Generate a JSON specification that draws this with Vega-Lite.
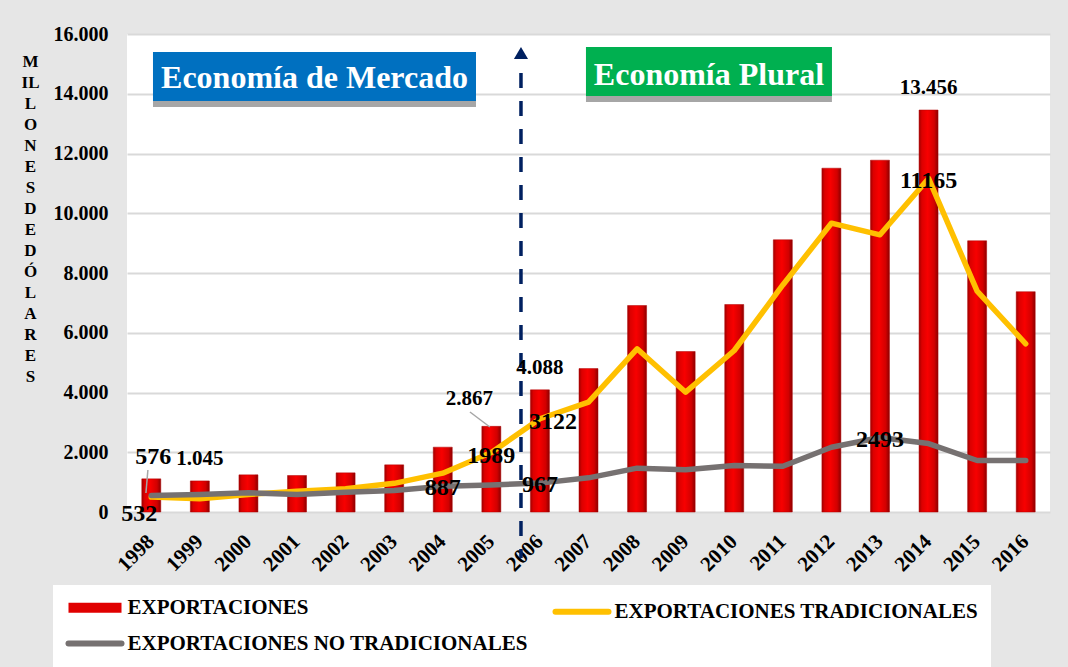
{
  "$schema": "https://vega.github.io/schema/vega-lite/v6.json",
  "width": 923,
  "height": 478,
  "autosize": "none",
  "padding": {"left": 127, "top": 34, "right": 18, "bottom": 155},
  "background": "#e6e6e6",
  "config": {"font": "Liberation Serif", "view": {"fill": "white", "stroke": null}},
  "data": {"values": [
    {"year": 1998, "total": 1110, "EXPORTACIONES TRADICIONALES": 500, "EXPORTACIONES NO TRADICIONALES": 555, "tLabel": "576", "nLabel": "532"},
    {"year": 1999, "total": 1040, "EXPORTACIONES TRADICIONALES": 441, "EXPORTACIONES NO TRADICIONALES": 586, "bLabel": "1.045"},
    {"year": 2000, "total": 1244, "EXPORTACIONES TRADICIONALES": 586, "EXPORTACIONES NO TRADICIONALES": 642},
    {"year": 2001, "total": 1222, "EXPORTACIONES TRADICIONALES": 697, "EXPORTACIONES NO TRADICIONALES": 586},
    {"year": 2002, "total": 1311, "EXPORTACIONES TRADICIONALES": 776, "EXPORTACIONES NO TRADICIONALES": 664},
    {"year": 2003, "total": 1579, "EXPORTACIONES TRADICIONALES": 960, "EXPORTACIONES NO TRADICIONALES": 720},
    {"year": 2004, "total": 2170, "EXPORTACIONES TRADICIONALES": 1300, "EXPORTACIONES NO TRADICIONALES": 860, "nLabel": "887"},
    {"year": 2005, "total": 2867, "EXPORTACIONES TRADICIONALES": 1989, "EXPORTACIONES NO TRADICIONALES": 905, "bLabel": "2.867", "tLabel": "1989"},
    {"year": 2006, "total": 4088, "EXPORTACIONES TRADICIONALES": 3122, "EXPORTACIONES NO TRADICIONALES": 967, "bLabel": "4.088", "tLabel": "3122", "nLabel": "967"},
    {"year": 2007, "total": 4800, "EXPORTACIONES TRADICIONALES": 3676, "EXPORTACIONES NO TRADICIONALES": 1144},
    {"year": 2008, "total": 6912, "EXPORTACIONES TRADICIONALES": 5462, "EXPORTACIONES NO TRADICIONALES": 1467},
    {"year": 2009, "total": 5372, "EXPORTACIONES TRADICIONALES": 4010, "EXPORTACIONES NO TRADICIONALES": 1412},
    {"year": 2010, "total": 6946, "EXPORTACIONES TRADICIONALES": 5406, "EXPORTACIONES NO TRADICIONALES": 1556},
    {"year": 2011, "total": 9112, "EXPORTACIONES TRADICIONALES": 7600, "EXPORTACIONES NO TRADICIONALES": 1533},
    {"year": 2012, "total": 11508, "EXPORTACIONES TRADICIONALES": 9667, "EXPORTACIONES NO TRADICIONALES": 2169},
    {"year": 2013, "total": 11776, "EXPORTACIONES TRADICIONALES": 9278, "EXPORTACIONES NO TRADICIONALES": 2493, "nLabel": "2493"},
    {"year": 2014, "total": 13456, "EXPORTACIONES TRADICIONALES": 11165, "EXPORTACIONES NO TRADICIONALES": 2291, "bLabel": "13.456", "tLabel": "11165"},
    {"year": 2015, "total": 9078, "EXPORTACIONES TRADICIONALES": 7391, "EXPORTACIONES NO TRADICIONALES": 1724},
    {"year": 2016, "total": 7374, "EXPORTACIONES TRADICIONALES": 5630, "EXPORTACIONES NO TRADICIONALES": 1724}
  ]},
  "encoding": {
    "x": {
      "field": "year", "type": "ordinal",
      "scale": {"paddingInner": 0, "paddingOuter": 0},
      "axis": {
        "title": null, "domain": false, "ticks": false,
        "labelAngle": -45, "labelAlign": "right", "labelBaseline": "middle",
        "labelFont": "Liberation Serif", "labelFontSize": 21, "labelFontWeight": "bold",
        "labelColor": "black", "labelPadding": 26
      }
    }
  },
  "layer": [
    {
      "mark": {"type": "bar", "size": 19, "stroke": "#b00000", "strokeWidth": 0.5,
        "fill": {"gradient": "linear", "x1": 0, "x2": 1, "y1": 0, "y2": 0,
          "stops": [
            {"offset": 0, "color": "#a00000"},
            {"offset": 0.15, "color": "#dc0000"},
            {"offset": 0.45, "color": "#f80000"},
            {"offset": 0.8, "color": "#d20000"},
            {"offset": 1, "color": "#8c0000"}
          ]}},
      "encoding": {
        "y": {
          "field": "total", "type": "quantitative",
          "scale": {"domain": [0, 16000], "nice": false},
          "axis": {
            "values": [0, 2000, 4000, 6000, 8000, 10000, 12000, 14000, 16000],
            "labelExpr": "replace(format(datum.value, ','), ',', '.')",
            "domain": false, "ticks": false, "grid": true, "gridColor": "#d9d9d9", "gridWidth": 2,
            "labelFont": "Liberation Serif", "labelFontSize": 20, "labelFontWeight": "bold",
            "labelColor": "black", "labelPadding": 19,
            "title": ["M", "IL", "L", "O", "N", "E", "S", "D", "E", "D", "Ó", "L", "A", "R", "E", "S"],
            "titleAngle": 0, "titleAlign": "center", "titleBaseline": "top",
            "titleX": -97, "titleY": 19, "titleLineHeight": 21,
            "titleFont": "Liberation Serif", "titleFontSize": 17, "titleFontWeight": "bold", "titleColor": "black"
          }
        }
      }
    },
    {
      "transform": [{"fold": ["EXPORTACIONES TRADICIONALES", "EXPORTACIONES NO TRADICIONALES"], "as": ["serie", "valor"]}],
      "mark": {"type": "line", "strokeWidth": 5.5, "strokeCap": "round", "strokeJoin": "round"},
      "encoding": {
        "y": {"field": "valor", "type": "quantitative"},
        "color": {
          "field": "serie", "type": "nominal",
          "scale": {
            "domain": ["EXPORTACIONES", "EXPORTACIONES TRADICIONALES", "EXPORTACIONES NO TRADICIONALES"],
            "range": ["#e00000", "#ffc000", "#767171"]
          },
          "legend": {
            "orient": "none", "legendX": -74, "legendY": 551, "direction": "horizontal",
            "columns": 2, "columnPadding": 15, "rowPadding": 3, "padding": 12, "gridAlign": "all",
            "fillColor": "white", "title": null,
            "labelFont": "Liberation Serif", "labelFontWeight": "bold", "labelFontSize": 21,
            "labelColor": "black", "labelLimit": 600, "labelOffset": 22, "symbolOffset": 19.5,
            "symbolType": "M-2.65,0H2.65", "symbolSize": 400, "symbolStrokeWidth": 6,
            "encode": {"symbols": {"update": {
              "strokeWidth": {"signal": "datum.value === 'EXPORTACIONES' ? 10 : 6"},
              "strokeCap": {"signal": "datum.value === 'EXPORTACIONES' ? 'butt' : 'round'"}
            }}}
          }
        },
        "order": {"field": "serie", "sort": "descending"}
      }
    },
    {
      "data": {"values": [{}]},
      "mark": {"type": "rule", "color": "#002060", "strokeWidth": 3.5, "strokeDash": [15, 13], "strokeDashOffset": 15},
      "encoding": {
        "x": {"datum": 2006, "type": "ordinal", "bandPosition": 0.11},
        "y": {"datum": 15130, "type": "quantitative"},
        "y2": {"datum": -1540}
      }
    },
    {
      "data": {"values": [{}]},
      "mark": {"type": "point", "shape": "triangle-up", "filled": true, "opacity": 1, "color": "#002060", "size": 200},
      "encoding": {
        "x": {"datum": 2006, "type": "ordinal", "bandPosition": 0.11},
        "y": {"datum": 15364, "type": "quantitative"}
      }
    },
    {
      "data": {"values": [{}]},
      "mark": {"type": "rule", "color": "#a6a6a6", "strokeWidth": 1.5},
      "encoding": {
        "x": {"datum": 2005, "type": "ordinal", "bandPosition": 0.06},
        "x2": {"datum": 2005, "bandPosition": 0.47},
        "y": {"datum": 3347, "type": "quantitative"},
        "y2": {"datum": 2845}
      }
    },
    {
      "data": {"values": [{}]},
      "mark": {"type": "rule", "color": "#a6a6a6", "strokeWidth": 1.5},
      "encoding": {
        "x": {"datum": 1998, "type": "ordinal", "bandPosition": 0.43},
        "x2": {"datum": 1998, "bandPosition": 0.39},
        "y": {"datum": 1406, "type": "quantitative"},
        "y2": {"datum": 636}
      }
    },
    {
      "data": {"values": [{}]},
      "mark": {"type": "rect", "color": "#a6a6a6"},
      "encoding": {
        "x": {"datum": 1998, "type": "ordinal", "bandPosition": 0.535},
        "x2": {"datum": 2005, "bandPosition": 0.184},
        "y": {"datum": 15397, "type": "quantitative"},
        "y2": {"datum": 13556}
      }
    },
    {
      "data": {"values": [{}]},
      "mark": {"type": "rect", "color": "#0070c0"},
      "encoding": {
        "x": {"datum": 1998, "type": "ordinal", "bandPosition": 0.535},
        "x2": {"datum": 2005, "bandPosition": 0.184},
        "y": {"datum": 15397, "type": "quantitative"},
        "y2": {"datum": 13757}
      }
    },
    {
      "data": {"values": [{}]},
      "mark": {"type": "rect", "color": "#a6a6a6"},
      "encoding": {
        "x": {"datum": 2007, "type": "ordinal", "bandPosition": 0.448},
        "x2": {"datum": 2012, "bandPosition": 0.511},
        "y": {"datum": 15565, "type": "quantitative"},
        "y2": {"datum": 13724}
      }
    },
    {
      "data": {"values": [{}]},
      "mark": {"type": "rect", "color": "#00b050"},
      "encoding": {
        "x": {"datum": 2007, "type": "ordinal", "bandPosition": 0.448},
        "x2": {"datum": 2012, "bandPosition": 0.511},
        "y": {"datum": 15565, "type": "quantitative"},
        "y2": {"datum": 13925}
      }
    },
    {
      "data": {"values": [{"t": "Economía de Mercado"}]},
      "mark": {"type": "text", "color": "white", "fontSize": 32, "fontWeight": "bold", "font": "Liberation Serif", "align": "center", "baseline": "alphabetic"},
      "encoding": {
        "x": {"datum": 2001, "type": "ordinal", "bandPosition": 0.86},
        "y": {"datum": 14192, "type": "quantitative"},
        "text": {"field": "t"}
      }
    },
    {
      "data": {"values": [{"t": "Economía Plural"}]},
      "mark": {"type": "text", "color": "white", "fontSize": 32, "fontWeight": "bold", "font": "Liberation Serif", "align": "center", "baseline": "alphabetic"},
      "encoding": {
        "x": {"datum": 2009, "type": "ordinal", "bandPosition": 0.98},
        "y": {"datum": 14293, "type": "quantitative"},
        "text": {"field": "t"}
      }
    },
    {
      "transform": [{"filter": "datum.bLabel && datum.year != 2005"}],
      "mark": {"type": "text", "fontSize": 21, "fontWeight": "bold", "color": "black", "baseline": "alphabetic", "dy": -16},
      "encoding": {"y": {"field": "total", "type": "quantitative"}, "text": {"field": "bLabel"}}
    },
    {
      "transform": [{"filter": "datum.year == 2005"}],
      "mark": {"type": "text", "fontSize": 21, "fontWeight": "bold", "color": "black", "baseline": "alphabetic", "dx": -22, "dy": -21},
      "encoding": {"y": {"field": "total", "type": "quantitative"}, "text": {"field": "bLabel"}}
    },
    {
      "transform": [{"filter": "datum.tLabel && datum.year != 1998 && datum.year != 2006"}],
      "mark": {"type": "text", "fontSize": 24, "fontWeight": "bold", "color": "black", "baseline": "alphabetic", "dy": 10},
      "encoding": {"y": {"field": "EXPORTACIONES TRADICIONALES", "type": "quantitative"}, "text": {"field": "tLabel"}}
    },
    {
      "transform": [{"filter": "datum.year == 2006"}],
      "mark": {"type": "text", "fontSize": 24, "fontWeight": "bold", "color": "black", "baseline": "alphabetic", "dx": 13, "dy": 10},
      "encoding": {"y": {"field": "EXPORTACIONES TRADICIONALES", "type": "quantitative"}, "text": {"field": "tLabel"}}
    },
    {
      "transform": [{"filter": "datum.year == 1998"}],
      "mark": {"type": "text", "fontSize": 24, "fontWeight": "bold", "color": "black", "baseline": "alphabetic", "dx": 2, "dy": -33},
      "encoding": {"y": {"field": "EXPORTACIONES TRADICIONALES", "type": "quantitative"}, "text": {"field": "tLabel"}}
    },
    {
      "transform": [{"filter": "datum.nLabel && datum.year != 1998"}],
      "mark": {"type": "text", "fontSize": 24, "fontWeight": "bold", "color": "black", "baseline": "alphabetic", "dy": 9},
      "encoding": {"y": {"field": "EXPORTACIONES NO TRADICIONALES", "type": "quantitative"}, "text": {"field": "nLabel"}}
    },
    {
      "transform": [{"filter": "datum.year == 1998"}],
      "mark": {"type": "text", "fontSize": 24, "fontWeight": "bold", "color": "black", "baseline": "alphabetic", "dx": -12, "dy": 26},
      "encoding": {"y": {"field": "EXPORTACIONES NO TRADICIONALES", "type": "quantitative"}, "text": {"field": "nLabel"}}
    }
  ]
}
